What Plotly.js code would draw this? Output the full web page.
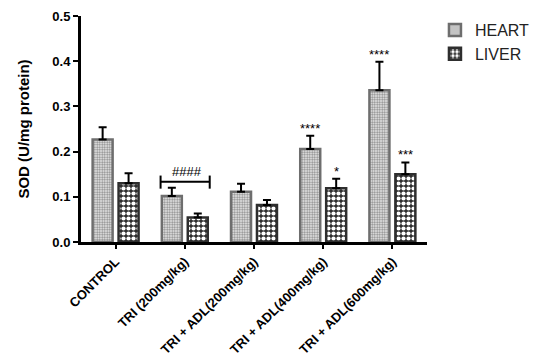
<!DOCTYPE html>
<html><head><meta charset="utf-8">
<script src="https://cdn.plot.ly/plotly-3.0.1.min.js"></script>
<style>html,body{margin:0;padding:0;background:#fff}#c{width:541px;height:363px}</style>
</head><body><div id="c"></div>
<script>
const categories = ["CONTROL", "TRI (200mg/kg)", "TRI + ADL(200mg/kg)", "TRI + ADL(400mg/kg)", "TRI + ADL(600mg/kg)"];
const heart = [0.227, 0.102, 0.111, 0.206, 0.336];
const heartErr = [0.027, 0.018, 0.018, 0.029, 0.063];
const liver = [0.130, 0.054, 0.082, 0.119, 0.150];
const liverErr = [0.022, 0.009, 0.011, 0.021, 0.026];
const heartStars = ["", "", "", "****", "****"];
const liverStars = ["", "", "", "*", "***"];
const bracketLabel = "####";

const boldFont = {family: "Liberation Sans, Arial, sans-serif", size: 13, color: "#000", weight: "bold"};
const starFont = {family: "Liberation Sans, Arial", size: 13, color: "#000"};

const traces = [
  {type: "bar", name: "HEART", x: categories, y: heart, legendgroup: "h",
   error_y: {type: "data", symmetric: false, array: heartErr, arrayminus: heartErr.map(() => 0), color: "#000", thickness: 2, width: 4},
   marker: {color: "#ffffff", line: {color: "#6e6e6e", width: 2.5},
            pattern: {shape: ".", fgcolor: "#8a8a8a", bgcolor: "#f2f2f2", size: 2.5, solidity: 0.5, fillmode: "replace"}}},
  {type: "bar", name: "LIVER", x: categories, y: liver, legendgroup: "l",
   error_y: {type: "data", symmetric: false, array: liverErr, arrayminus: liverErr.map(() => 0), color: "#000", thickness: 2, width: 4},
   marker: {color: "#2e2e2e", line: {color: "#2e2e2e", width: 2.5},
            pattern: {shape: ".", fgcolor: "#ffffff", bgcolor: "#2e2e2e", size: 5, solidity: 0.55, fillmode: "replace"}}}
];

const off = 0.188;
const annotations = [];
heart.forEach((v, i) => { if (heartStars[i]) annotations.push({x: i - off, y: v + heartErr[i], xref: "x", yref: "y", text: heartStars[i], showarrow: false, yanchor: "bottom", yshift: -2, font: starFont}); });
liver.forEach((v, i) => { if (liverStars[i]) annotations.push({x: i + off, y: v + liverErr[i], xref: "x", yref: "y", text: liverStars[i], showarrow: false, yanchor: "bottom", yshift: -2, font: starFont}); });
annotations.push({x: 1.03, y: 0.1334, xref: "x", yref: "y", text: bracketLabel, showarrow: false, yanchor: "bottom", yshift: 1, font: starFont});

const shapes = [
  {type: "line", xref: "x", yref: "y", x0: 0.65, x1: 1.36, y0: 0.1334, y1: 0.1334, line: {color: "#000", width: 2}},
  {type: "line", xref: "x", yref: "y", x0: 0.65, x1: 0.65, y0: 0.118, y1: 0.147, line: {color: "#000", width: 2}},
  {type: "line", xref: "x", yref: "y", x0: 1.36, x1: 1.36, y0: 0.118, y1: 0.147, line: {color: "#000", width: 2}}
];

const layout = {
  width: 541, height: 363,
  margin: {l: 81, r: 114, t: 16, b: 121, autoexpand: false},
  paper_bgcolor: "#fff", plot_bgcolor: "#fff",
  barmode: "group", bargap: 0.25, bargroupgap: 0.23,
  showlegend: true,
  legend: {x: 1.023, y: 1.013, xanchor: "left", yanchor: "top", traceorder: "grouped", tracegroupgap: 0,
           font: {family: "Liberation Sans, Arial", size: 16, color: "#222"}, itemwidth: 30},
  xaxis: {type: "category", range: [-0.5, 4.5], automargin: false, showline: true, linecolor: "#000", linewidth: 3, ticks: "outside", ticklen: 4, tickwidth: 2, tickcolor: "#000",
          tickangle: -45, tickfont: boldFont, showgrid: false, zeroline: false, fixedrange: true},
  yaxis: {range: [0, 0.5], dtick: 0.1, tickformat: ".1f", automargin: false, showline: true, linecolor: "#000", linewidth: 3, ticks: "outside", ticklen: 5, tickwidth: 2, tickcolor: "#000",
          tickfont: boldFont, showgrid: false, zeroline: false,
          title: {text: "SOD (U/mg protein)", font: {family: "Liberation Sans, Arial", size: 15, color: "#000", weight: "bold"}, standoff: 20}},
  annotations: annotations,
  shapes: shapes
};
Plotly.newPlot("c", traces, layout, {displayModeBar: false, staticPlot: true});
</script></body></html>
